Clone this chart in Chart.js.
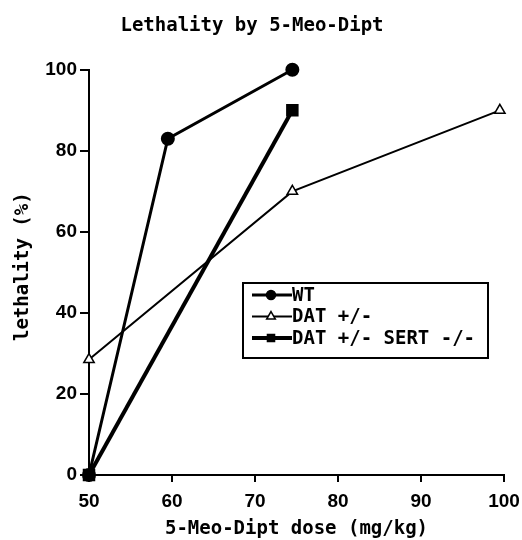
<!DOCTYPE html>
<html><head><meta charset="utf-8">
<script src="https://cdn.jsdelivr.net/npm/chart.js@4"></script>
<style>html,body{margin:0;padding:0;background:#fff}#wrap{width:522px;height:540px}</style>
</head><body><div id="wrap"><canvas id="c" width="522" height="540"></canvas></div>
<script>
const seriesLabels = ['WT', 'DAT +/-', 'DAT +/- SERT -/-'];
const wtDose = [50, 59.5, 74.5];
const wtLethality = [0, 83, 100];
const datDose = [50, 74.5, 99.5];
const datLethality = [28.5, 70, 90];
const sertDose = [50, 74.5];
const sertLethality = [0, 90];
const xTicks = [50, 60, 70, 80, 90, 100];
const yTicks = [0, 20, 40, 60, 80, 100];

const toPts = (xs, ys) => xs.map((x, i) => ({x, y: ys[i]}));

const legendPlugin = {
  id: 'boxLegend',
  afterDraw(chart) {
    const ctx = chart.ctx;
    const x0 = 243, y0 = 283, w = 245, h = 75;
    ctx.save();
    ctx.fillStyle = '#fff';
    ctx.fillRect(x0, y0, w, h);
    ctx.strokeStyle = '#000'; ctx.lineWidth = 2;
    ctx.strokeRect(x0, y0, w, h);
    ctx.font = 'bold 19px "DejaVu Sans Mono"';
    ctx.textBaseline = 'middle';
    chart.data.datasets.forEach((ds, i) => {
      const cy = y0 + 12 + i * 21.5;
      ctx.strokeStyle = '#000'; ctx.lineWidth = ds.borderWidth;
      ctx.beginPath(); ctx.moveTo(x0 + 9, cy); ctx.lineTo(x0 + 49, cy); ctx.stroke();
      ctx.fillStyle = ds.pointBackgroundColor;
      ctx.strokeStyle = '#000';
      ctx.lineWidth = 1.5;
      Chart.helpers.drawPoint(ctx, {pointStyle: ds.pointStyle, radius: ds.pointRadius - 1, borderWidth: 1.5}, x0 + 28, cy);
      ctx.fillStyle = '#000';
      ctx.fillText(ds.label, x0 + 49, cy + 1);
    });
    ctx.restore();
  }
};

new Chart(document.getElementById('c'), {
  type: 'scatter',
  data: {
    datasets: [
      {label: seriesLabels[0], data: toPts(wtDose, wtLethality), showLine: true, borderColor: '#000', backgroundColor: '#000', borderWidth: 3, pointStyle: 'circle', pointRadius: 5.5, pointBorderColor: '#000', pointBackgroundColor: '#000', clip: false},
      {label: seriesLabels[1], data: toPts(datDose, datLethality), showLine: true, borderColor: '#000', backgroundColor: '#fff', borderWidth: 2, pointStyle: 'triangle', pointRadius: 6, pointBorderColor: '#000', pointBackgroundColor: '#fff', pointBorderWidth: 1.5, clip: false},
      {label: seriesLabels[2], data: toPts(sertDose, sertLethality), showLine: true, borderColor: '#000', backgroundColor: '#000', borderWidth: 4, pointStyle: 'rect', pointRadius: 6, pointBorderColor: '#000', pointBackgroundColor: '#000', clip: false}
    ]
  },
  options: {
    responsive: false,
    animation: false,
    layout: {padding: {top: 0, right: 18, bottom: 0, left: 0}},
    plugins: {
      legend: {display: false},
      tooltip: {enabled: false},
      title: {display: true, text: 'Lethality by 5-Meo-Dipt', color: '#000', font: {family: '"DejaVu Sans Mono"', size: 19, weight: 'bold'}, padding: {top: 15, bottom: 32}}
    },
    scales: {
      x: {
        type: 'linear', min: 50, max: 100,
        afterBuildTicks: s => { s.ticks = xTicks.map(v => ({value: v})); },
        afterFit: s => { s.height = 65; s.paddingLeft = 0; s.paddingRight = 0; },
        border: {display: true, color: '#000', width: 2},
        grid: {drawOnChartArea: false, drawTicks: true, tickLength: 7, color: '#000', lineWidth: 2},
        ticks: {color: '#000', font: {family: '"Liberation Sans"', size: 19, weight: 'bold'}, padding: 8, maxRotation: 0},
        title: {display: true, text: '5-Meo-Dipt dose (mg/kg)', color: '#000', font: {family: '"DejaVu Sans Mono"', size: 19, weight: 'bold'}, padding: {top: 0, bottom: 0}}
      },
      y: {
        type: 'linear', min: 0, max: 100,
        afterBuildTicks: s => { s.ticks = yTicks.map(v => ({value: v})); },
        afterFit: s => { s.width = 89; s.paddingTop = 0; s.paddingBottom = 0; },
        border: {display: true, color: '#000', width: 2},
        grid: {drawOnChartArea: false, drawTicks: true, tickLength: 9, color: '#000', lineWidth: 2},
        ticks: {color: '#000', font: {family: '"Liberation Sans"', size: 19, weight: 'bold'}, padding: 3},
        title: {display: true, text: ' lethality (%)', color: '#000', font: {family: '"DejaVu Sans Mono"', size: 19, weight: 'bold'}, padding: {top: 12, bottom: 0}}
      }
    }
  },
  plugins: [legendPlugin]
});
</script></body></html>
